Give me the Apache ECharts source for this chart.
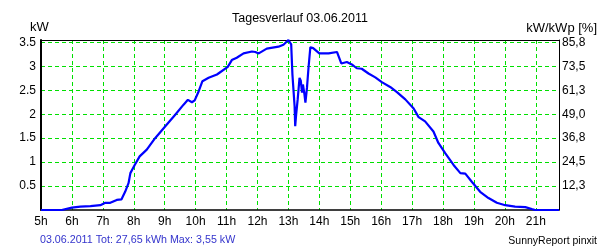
<!DOCTYPE html>
<html><head><meta charset="utf-8">
<script src="https://cdn.jsdelivr.net/npm/echarts@6/dist/echarts.min.js"></script>
<style>html,body{margin:0;padding:0;background:#fff}#c{width:600px;height:250px}</style>
</head><body><div id="c"></div>
<script>
// ---- data ----
const hours = [5.0, 5.67, 6.0, 6.27, 6.6, 6.92, 7.08, 7.24, 7.45, 7.6, 7.72, 7.83, 7.89, 8.03, 8.19, 8.42, 8.69, 9.02, 9.34, 9.61, 9.75, 9.88, 9.97, 10.1, 10.22, 10.42, 10.69, 11.04, 11.17, 11.33, 11.55, 11.82, 11.93, 12.04, 12.3, 12.68, 12.84, 13.0, 13.09, 13.13, 13.17, 13.2, 13.22, 13.25, 13.3, 13.36, 13.4, 13.44, 13.47, 13.52, 13.55, 13.6, 13.65, 13.71, 13.8, 14.0, 14.3, 14.57, 14.71, 14.89, 15.05, 15.21, 15.37, 15.59, 15.81, 16.02, 16.29, 16.51, 16.78, 17.05, 17.21, 17.42, 17.69, 17.85, 18.07, 18.34, 18.56, 18.72, 18.93, 19.2, 19.47, 19.74, 20.01, 20.33, 20.66, 20.87, 20.98, 21.75];
const powerKW = [0, 0, 0.05, 0.07, 0.08, 0.10, 0.15, 0.15, 0.21, 0.22, 0.38, 0.56, 0.77, 0.94, 1.12, 1.26, 1.50, 1.75, 1.99, 2.20, 2.30, 2.25, 2.29, 2.48, 2.69, 2.76, 2.83, 2.99, 3.13, 3.18, 3.27, 3.31, 3.30, 3.27, 3.37, 3.41, 3.45, 3.55, 3.46, 2.83, 2.45, 2.17, 1.75, 1.99, 2.31, 2.76, 2.70, 2.45, 2.62, 2.41, 2.24, 2.55, 2.97, 3.40, 3.38, 3.27, 3.27, 3.30, 3.06, 3.09, 3.04, 2.96, 2.95, 2.85, 2.77, 2.67, 2.57, 2.46, 2.31, 2.12, 1.94, 1.85, 1.64, 1.40, 1.19, 0.94, 0.77, 0.76, 0.59, 0.38, 0.25, 0.15, 0.10, 0.07, 0.06, 0.02, 0, 0];
const xTickLabels = ['5h','6h','7h','8h','9h','10h','11h','12h','13h','14h','15h','16h','17h','18h','19h','20h','21h'];
const leftTickLabels = ['0.5','1','1.5','2','2.5','3','3.5'];
const rightTickLabels = ['12,3','24,5','36,8','49,0','61,3','73,5','85,8'];
const titleText = 'Tagesverlauf 03.06.2011';
const leftAxisName = 'kW';
const rightAxisName = 'kW/kWp [%]';
const footerLeft = '03.06.2011 Tot: 27,65 kWh Max: 3,55 kW';
const footerRight = 'SunnyReport pinxit';

const FONT = '"Liberation Sans", Arial, sans-serif';
const GRID = '#00e000';

function yLabel(arr) {
  return function (v) {
    const idx = Math.round(v / 0.5) - 1;
    if (Math.abs(v - (idx + 1) * 0.5) > 1e-6) return '';
    return arr[idx] || '';
  };
}

const chart = echarts.init(document.getElementById('c'), null, {renderer: 'canvas'});
chart.setOption({
  animation: false,
  backgroundColor: '#fff',
  grid: {left: 41, right: 41, top: 40, bottom: 40, containLabel: false},
  xAxis: [{
    type: 'value', min: 5, max: 21.75, interval: 1, position: 'bottom',
    axisLine: {show: true, onZero: false, lineStyle: {color: '#000', width: 1.5}},
    axisTick: {show: false},
    axisLabel: {
      color: '#000', fontSize: 12, fontFamily: FONT, margin: 6,
      showMaxLabel: true,
      formatter: function (v) {
        const r = Math.round(v);
        if (Math.abs(v - r) > 1e-6) return '';
        return xTickLabels[r - 5] || '';
      }
    },
    splitLine: {show: true, showMinLine: false, showMaxLine: false, lineStyle: {color: GRID, width: 1, type: [4, 3]}}
  }, {
    type: 'value', min: 5, max: 21.75, interval: 1, position: 'top',
    axisLine: {show: true, onZero: false, lineStyle: {color: '#000', width: 1}},
    axisTick: {show: false}, axisLabel: {show: false}, splitLine: {show: false}
  }],
  yAxis: [{
    type: 'value', min: 0, max: 3.55, interval: 0.5, position: 'left',
    axisLine: {show: true, onZero: false, lineStyle: {color: '#000', width: 2}},
    axisTick: {show: false},
    axisLabel: {color: '#000', fontSize: 12, fontFamily: FONT, margin: 5, formatter: yLabel(leftTickLabels)},
    splitLine: {show: true, showMinLine: false, showMaxLine: false, lineStyle: {color: GRID, width: 1, type: [4, 3]}}
  }, {
    type: 'value', min: 0, max: 3.55, interval: 0.5, position: 'right',
    axisLine: {show: true, onZero: false, lineStyle: {color: '#000', width: 1}},
    axisTick: {show: false},
    axisLabel: {color: '#000', fontSize: 12, fontFamily: FONT, margin: 3, formatter: yLabel(rightTickLabels)},
    splitLine: {show: false}
  }],
  series: [{
    type: 'line', xAxisIndex: 0, yAxisIndex: 0,
    data: hours.map((h, i) => [h, powerKW[i]]),
    showSymbol: false, symbol: 'none', smooth: false,
    lineStyle: {color: '#0000ff', width: 2.2},
    z: 5
  }],
  graphic: [
    {type: 'text', left: 'center', top: 12, style: {text: titleText, fill: '#000', font: '12.5px ' + FONT}},
    {type: 'text', x: 30, y: 27, style: {text: leftAxisName, fill: '#000', font: '13px ' + FONT, textAlign: 'left', textVerticalAlign: 'middle'}},
    {type: 'text', x: 597, y: 28, style: {text: rightAxisName, fill: '#000', font: '13px ' + FONT, textAlign: 'right', textVerticalAlign: 'middle'}},
    {type: 'text', x: 40, y: 240, style: {text: footerLeft, fill: '#3333cc', font: '10.7px ' + FONT, textAlign: 'left', textVerticalAlign: 'middle'}},
    {type: 'text', x: 597, y: 241.5, style: {text: footerRight, fill: '#000', font: '10.5px ' + FONT, textAlign: 'right', textVerticalAlign: 'middle'}}
  ]
});
</script></body></html>
